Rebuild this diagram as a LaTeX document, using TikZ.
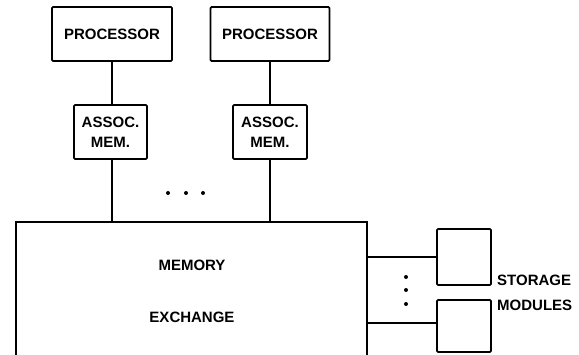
\documentclass[tikz,border=0pt]{standalone}
\usepackage{fontspec}
\setmainfont{Liberation Sans}
\begin{document}
\begin{tikzpicture}[x=1pt,y=-1pt,
  lbl/.style={font=\bfseries\fontsize{15}{16}\selectfont, inner sep=0pt},
  box/.style={draw, line width=1.8pt, rounded corners=1.2pt, inner sep=0pt, align=center,
     font=\bfseries\fontsize{15}{20}\selectfont},
  conn/.style={line width=1.6pt},
  dot/.style={circle, fill, inner sep=0pt, minimum size=4pt}]
\useasboundingbox (0,0) rectangle (579,355);
% processors
\node[box, minimum width=120pt, minimum height=54pt] (p1) at (112,34) {PROCESSOR};
\node[box, minimum width=119pt, minimum height=54pt] (p2) at (270,34) {PROCESSOR};
% associative memories
\node[box, minimum width=73pt, minimum height=54pt] (a1) at (110.5,132) {ASSOC.\\MEM.};
\node[box, minimum width=74pt, minimum height=54pt] (a2) at (270,132) {ASSOC.\\MEM.};
% memory exchange (open at the bottom)
\node[minimum width=351pt, minimum height=134pt, inner sep=0pt] (mem) at (191.5,289) {};
\draw[line width=1.8pt] (mem.south west) -- (mem.north west) -- (mem.north east) -- (mem.south east);
\node[lbl] (t1) at (192,265) {MEMORY};
\node[lbl] (t2) at (192,317) {EXCHANGE};
% storage modules
\node[box, minimum width=54pt, minimum height=56pt] (s1) at (464,257) {};
\node[box, minimum width=54pt, minimum height=52pt] (s2) at (464,326) {};
\node[lbl, anchor=west] (st) at (497,280) {STORAGE};
\node[lbl, anchor=west] (sm) at (497,305) {MODULES};
% connectors
\draw[conn] (p1.south) -- (p1.south |- a1.north);
\draw[conn] (p2.south) -- (p2.south |- a2.north);
\draw[conn] (a1.south -| p1.south) -- (p1.south |- mem.north);
\draw[conn] (a2.south -| p2.south) -- (p2.south |- mem.north);
\draw[conn] (s1.west -| mem.east) -- (s1.west);
\coordinate (c2) at (437,323);
\draw[conn] (c2 -| mem.east) -- (c2);
% dots
\node[dot] (d1) at (168,193) {};
\node[dot] (d2) at (186,193) {};
\node[dot] (d3) at (203,193) {};
\node[dot] (e1) at (406,277) {};
\node[dot] (e2) at (406,290) {};
\node[dot] (e3) at (406,304) {};
\end{tikzpicture}
\end{document}
